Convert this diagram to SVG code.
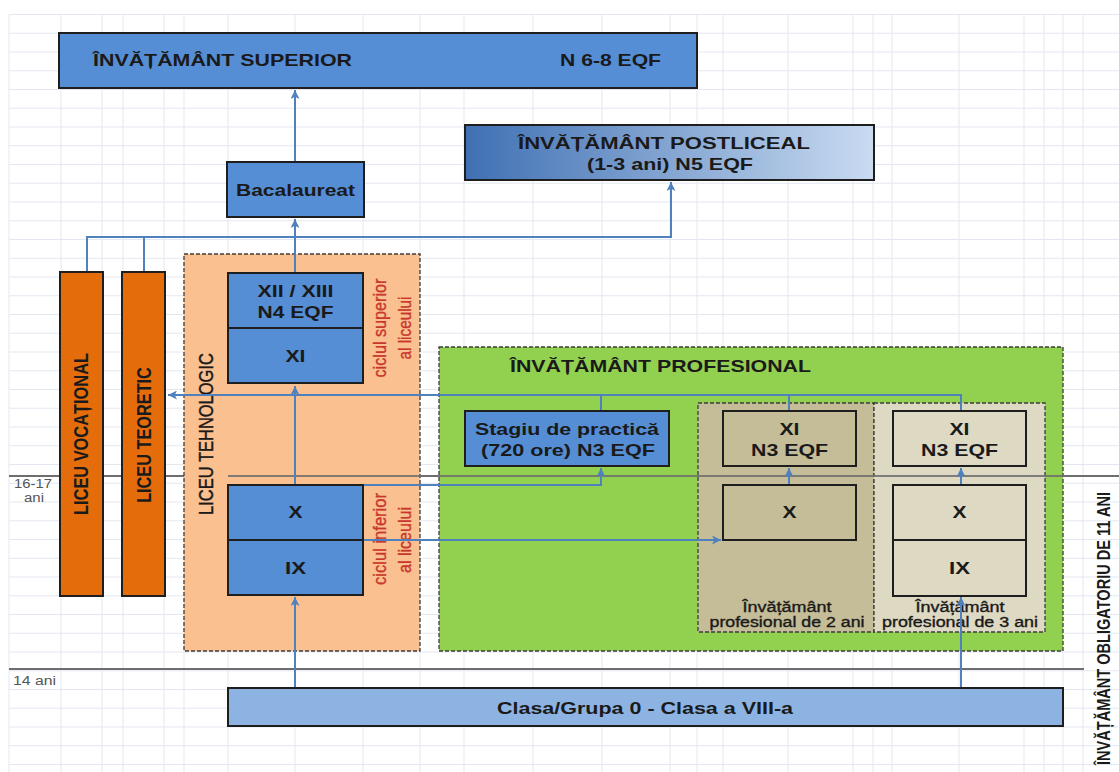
<svg xmlns="http://www.w3.org/2000/svg" width="1119" height="772" viewBox="0 0 1119 772">
  <style>
    .t { font-family: "Liberation Sans", Arial, sans-serif; fill: #1a1a1a; }
    .b { font-weight: bold; }
    .med { stroke: #1a1a1a; stroke-width: 0.35; }
    .box { stroke: #1e1e1e; stroke-width: 2; }
    .blue { fill: #558ed5; }
    .cont { stroke: #3c3c3c; stroke-width: 1.3; stroke-dasharray: 4 2; }
    .red { fill: #c8372d; stroke: #c8372d; stroke-width: 0.3; }
    .age { fill: #555555; }
    .conn { fill: none; stroke: #4f81bd; stroke-width: 2; }
    .grid { stroke: #e3e7f0; stroke-width: 1; fill: none; }
    .ageline { stroke: #6e6e6e; stroke-width: 2; }
  </style>
  <defs>
    <linearGradient id="postGrad" x1="0" y1="0" x2="1" y2="0">
      <stop offset="0" stop-color="#3f70b3"/>
      <stop offset="1" stop-color="#c9dbf1"/>
    </linearGradient>
    <marker id="arrow" viewBox="0 0 10 10" refX="10" refY="5" markerWidth="9" markerHeight="9" markerUnits="userSpaceOnUse" orient="auto">
      <path d="M0,0 L10,5 L0,10 L2.5,5 z" fill="#4f81bd"/>
    </marker>
    <pattern id="rows" x="0" y="14" width="1119" height="18.75" patternUnits="userSpaceOnUse">
      <line x1="0" y1="0.5" x2="1119" y2="0.5" stroke="#e3e7f0" stroke-width="1"/>
    </pattern>
  </defs>

  <!-- background sheet with grid -->
  <rect width="1119" height="772" fill="#ffffff"/>
  <rect x="9" y="14" width="1110" height="758" fill="url(#rows)"/>
  <path class="grid" d="M9,14V772 M61,14V772 M102,14V772 M123,14V772 M164,14V772 M184,14V772 M228,14V772 M295,14V772 M363,14V772 M420,14V772 M464,14V772 M533,14V772 M602,14V772 M670,14V772 M697,14V772 M723,14V772 M788,14V772 M853,14V772 M873,14V772 M892,14V772 M959,14V772 M1024,14V772 M1044,14V772 M1063,14V772 M1083,14V772"/>

  <!-- age boundaries (lower layer) -->
  <line class="ageline" x1="9" y1="476" x2="1119" y2="476"/>
  <line class="ageline" x1="9" y1="669" x2="1084" y2="669"/>
  <text class="t age" x="14" y="488" font-size="12" textLength="38" lengthAdjust="spacingAndGlyphs">16-17</text>
  <text class="t age" x="24" y="502" font-size="12" textLength="20" lengthAdjust="spacingAndGlyphs">ani</text>
  <text class="t age" x="13" y="685" font-size="12.5" textLength="43" lengthAdjust="spacingAndGlyphs">14 ani</text>

  <!-- containers -->
  <g id="liceu-tehnologic">
    <rect class="cont" x="184" y="254" width="236" height="397" fill="#fac090"/>
    <text class="t med" font-size="16.5" text-anchor="middle" transform="translate(212.5,434) scale(1.25,1) rotate(-90)">LICEU TEHNOLOGIC</text>
    <text class="t red" font-size="16" text-anchor="middle" textLength="99" lengthAdjust="spacingAndGlyphs" transform="translate(386,328) scale(1.2,1) rotate(-90)">ciclul superior</text>
    <text class="t red" font-size="16" text-anchor="middle" textLength="63" lengthAdjust="spacingAndGlyphs" transform="translate(411,328) scale(1.2,1) rotate(-90)">al liceului</text>
    <text class="t red" font-size="16" text-anchor="middle" textLength="92" lengthAdjust="spacingAndGlyphs" transform="translate(386,539) scale(1.2,1) rotate(-90)">ciclul inferior</text>
    <text class="t red" font-size="16" text-anchor="middle" textLength="66" lengthAdjust="spacingAndGlyphs" transform="translate(411,540) scale(1.2,1) rotate(-90)">al liceului</text>
  </g>

  <g id="invatamant-profesional">
    <rect class="cont" x="439" y="347" width="624" height="304" fill="#92d050"/>
    <text class="t b" x="510" y="372" font-size="17" textLength="301" lengthAdjust="spacingAndGlyphs">ÎNVĂȚĂMÂNT PROFESIONAL</text>
  </g>

  <g id="profesional-2-ani">
    <rect class="cont" x="698" y="403" width="176" height="229" fill="#c4bd97"/>
    <text class="t med" x="787" y="612" font-size="14" text-anchor="middle" textLength="89" lengthAdjust="spacingAndGlyphs">Învățământ</text>
    <text class="t med" x="787" y="627" font-size="14" text-anchor="middle" textLength="155" lengthAdjust="spacingAndGlyphs">profesional de 2 ani</text>
  </g>

  <g id="profesional-3-ani">
    <rect class="cont" x="874" y="403" width="171" height="229" fill="#ddd9c3"/>
    <text class="t med" x="960" y="612" font-size="14" text-anchor="middle" textLength="89" lengthAdjust="spacingAndGlyphs">Învățământ</text>
    <text class="t med" x="960" y="627" font-size="14" text-anchor="middle" textLength="156" lengthAdjust="spacingAndGlyphs">profesional de 3 ani</text>
  </g>

  <!-- 16-17 boundary drawn over the school tracks -->
  <line class="ageline" x1="228" y1="476" x2="1119" y2="476" opacity="0.85"/>

  <!-- connectors -->
  <g id="connectors">
    <path class="conn" d="M295,162 V90" marker-end="url(#arrow)"/>
    <path class="conn" d="M295,273 V219" marker-end="url(#arrow)"/>
    <path class="conn" d="M87,272 V237 H671 V182" marker-end="url(#arrow)"/>
    <path class="conn" d="M144,272 V237"/>
    <path class="conn" d="M961,411 V395 H168" marker-end="url(#arrow)"/>
    <path class="conn" d="M789,411 V395"/>
    <path class="conn" d="M601,411 V395"/>
    <path class="conn" d="M295,485 V386" marker-end="url(#arrow)"/>
    <path class="conn" d="M363,485 H601 V468" marker-end="url(#arrow)"/>
    <path class="conn" d="M363,540 H721" marker-end="url(#arrow)"/>
    <path class="conn" d="M789,485 V468" marker-end="url(#arrow)"/>
    <path class="conn" d="M961,485 V468" marker-end="url(#arrow)"/>
    <path class="conn" d="M295,688 V597" marker-end="url(#arrow)"/>
    <path class="conn" d="M961,688 V597" marker-end="url(#arrow)"/>
  </g>

  <!-- nodes -->
  <g id="invatamant-superior">
    <rect class="box blue" x="59" y="33" width="638" height="55"/>
    <text class="t b" x="93" y="66" font-size="17" textLength="259" lengthAdjust="spacingAndGlyphs">ÎNVĂȚĂMÂNT SUPERIOR</text>
    <text class="t b" x="560" y="66" font-size="17" textLength="101" lengthAdjust="spacingAndGlyphs">N 6-8 EQF</text>
  </g>

  <g id="invatamant-postliceal">
    <rect class="box" x="465" y="125" width="409" height="55" fill="url(#postGrad)"/>
    <text class="t b" x="664" y="149" font-size="17" text-anchor="middle" textLength="292" lengthAdjust="spacingAndGlyphs">ÎNVĂȚĂMÂNT POSTLICEAL</text>
    <text class="t b" x="670" y="170" font-size="17" text-anchor="middle" textLength="166" lengthAdjust="spacingAndGlyphs">(1-3 ani) N5 EQF</text>
  </g>

  <g id="bacalaureat">
    <rect class="box blue" x="227" y="162" width="137" height="55"/>
    <text class="t b" x="295.5" y="196" font-size="17" text-anchor="middle" textLength="119" lengthAdjust="spacingAndGlyphs">Bacalaureat</text>
  </g>

  <g id="liceu-vocational">
    <rect class="box" x="60" y="272" width="43" height="324" fill="#e46c0a"/>
    <text class="t b" font-size="16.4" text-anchor="middle" transform="translate(88,434) scale(1.25,1) rotate(-90)">LICEU VOCAȚIONAL</text>
  </g>

  <g id="liceu-teoretic">
    <rect class="box" x="122" y="272" width="43" height="324" fill="#e46c0a"/>
    <text class="t b" font-size="16.3" text-anchor="middle" transform="translate(150.5,435) scale(1.25,1) rotate(-90)">LICEU TEORETIC</text>
  </g>

  <g id="tehnologic-xii-xiii">
    <rect class="box blue" x="228" y="273" width="135" height="55"/>
    <text class="t b" x="295.5" y="297" font-size="17" text-anchor="middle" textLength="76" lengthAdjust="spacingAndGlyphs">XII / XIII</text>
    <text class="t b" x="295.5" y="318" font-size="17" text-anchor="middle" textLength="76" lengthAdjust="spacingAndGlyphs">N4 EQF</text>
  </g>
  <g id="tehnologic-xi">
    <rect class="box blue" x="228" y="328" width="135" height="55"/>
    <text class="t b" x="295.5" y="362" font-size="17" text-anchor="middle" textLength="20" lengthAdjust="spacingAndGlyphs">XI</text>
  </g>
  <g id="tehnologic-x">
    <rect class="box blue" x="228" y="485" width="135" height="55"/>
    <text class="t b" x="295.5" y="518" font-size="17" text-anchor="middle" textLength="14" lengthAdjust="spacingAndGlyphs">X</text>
  </g>
  <g id="tehnologic-ix">
    <rect class="box blue" x="228" y="540" width="135" height="55"/>
    <text class="t b" x="295.5" y="574" font-size="17" text-anchor="middle" textLength="21" lengthAdjust="spacingAndGlyphs">IX</text>
  </g>

  <g id="stagiu-practica">
    <rect class="box blue" x="465" y="411" width="204" height="55"/>
    <text class="t b" x="567" y="435" font-size="17" text-anchor="middle" textLength="184" lengthAdjust="spacingAndGlyphs">Stagiu de practică</text>
    <text class="t b" x="568" y="456" font-size="17" text-anchor="middle" textLength="174" lengthAdjust="spacingAndGlyphs">(720 ore) N3 EQF</text>
  </g>

  <g id="p2-xi">
    <rect class="box" x="723" y="411" width="133" height="55" fill="#c4bd97"/>
    <text class="t b" x="789.5" y="435" font-size="17" text-anchor="middle" textLength="20" lengthAdjust="spacingAndGlyphs">XI</text>
    <text class="t b" x="789.5" y="456" font-size="17" text-anchor="middle" textLength="77" lengthAdjust="spacingAndGlyphs">N3 EQF</text>
  </g>
  <g id="p2-x">
    <rect class="box" x="723" y="485" width="133" height="55" fill="#c4bd97"/>
    <text class="t b" x="789.5" y="518" font-size="17" text-anchor="middle" textLength="14" lengthAdjust="spacingAndGlyphs">X</text>
  </g>

  <g id="p3-xi">
    <rect class="box" x="893" y="411" width="133" height="55" fill="#ddd9c3"/>
    <text class="t b" x="959.5" y="435" font-size="17" text-anchor="middle" textLength="20" lengthAdjust="spacingAndGlyphs">XI</text>
    <text class="t b" x="959.5" y="456" font-size="17" text-anchor="middle" textLength="77" lengthAdjust="spacingAndGlyphs">N3 EQF</text>
  </g>
  <g id="p3-x">
    <rect class="box" x="893" y="485" width="133" height="55" fill="#ddd9c3"/>
    <text class="t b" x="959.5" y="518" font-size="17" text-anchor="middle" textLength="14" lengthAdjust="spacingAndGlyphs">X</text>
  </g>
  <g id="p3-ix">
    <rect class="box" x="893" y="540" width="133" height="56" fill="#ddd9c3"/>
    <text class="t b" x="959.5" y="574" font-size="17" text-anchor="middle" textLength="21" lengthAdjust="spacingAndGlyphs">IX</text>
  </g>

  <g id="clasa-0-viii">
    <rect class="box" x="228" y="688" width="835" height="38" fill="#8db3e2"/>
    <text class="t b" x="645" y="714" font-size="17" text-anchor="middle" textLength="296" lengthAdjust="spacingAndGlyphs">Clasa/Grupa 0 - Clasa a VIII-a</text>
  </g>

  <g id="obligatoriu">
    <text class="t b" font-size="14.4" text-anchor="middle" textLength="273" lengthAdjust="spacingAndGlyphs" transform="translate(1110,628.5) scale(1.25,1) rotate(-90)">ÎNVĂȚĂMÂNT OBLIGATORIU DE 11 ANI</text>
  </g>
</svg>
